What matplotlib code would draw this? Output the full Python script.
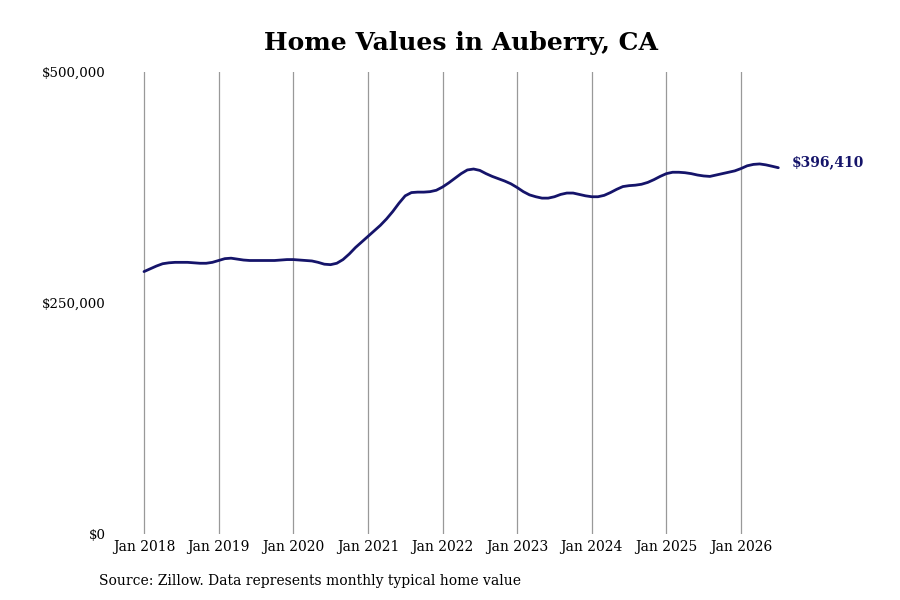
import matplotlib
matplotlib.use("Agg")
import matplotlib.pyplot as plt

# monthly typical home value, Jan 2018 .. Jul 2026 (thousands of $)
values_2018 = [284, 287, 290, 292.5, 293.5, 294, 294, 294, 293.5, 293, 293, 294]
values_2019 = [296, 298, 298.5, 297.5, 296.5, 296, 296, 296, 296, 296, 296.5, 297]
values_2020 = [297, 296.5, 296, 295.5, 294, 292, 291.5, 293, 297, 303, 310, 316]
values_2021 = [322, 328, 334, 341, 349, 358, 366, 369.5, 370, 370, 370.5, 372]
values_2022 = [375.5, 380, 385, 390, 394, 395, 393.5, 390, 387, 384.5, 382, 379]
values_2023 = [375, 370.5, 367, 365, 363.5, 363.5, 365, 367.5, 369, 369, 367.5, 366]
values_2024 = [365, 365, 366.5, 369.5, 373, 376, 377, 377.5, 378.5, 380.5, 383.5, 387]
values_2025 = [390, 391.5, 391.5, 391, 390, 388.5, 387.5, 387, 388.5, 390, 391.5, 393]
values_2026 = [395.5, 398.5, 400, 400.5, 399.5, 398, 396.41]

years = [2018, 2019, 2020, 2021, 2022, 2023, 2024, 2025, 2026]
tick_labels = ["Jan %d" % y for y in years]
y_ticks = [0, 250000, 500000]
y_labels = ["$0", "$250,000", "$500,000"]
last_label = "$396,410"

values = (values_2018 + values_2019 + values_2020 + values_2021 + values_2022
          + values_2023 + values_2024 + values_2025 + values_2026)
values = [v * 1000 for v in values]
months = list(range(len(values)))

plt.rcParams['font.family'] = 'DejaVu Serif'
navy = '#15146a'

fig = plt.figure(figsize=(9, 6), dpi=100)
ax = fig.add_axes([120 / 900, 66 / 600, 670 / 900, 462 / 600])

px_per_month = (741 - 144) / 96.0
ax.set_xlim(-(144 - 120) / px_per_month, (790 - 144) / px_per_month)
ax.set_ylim(0, 500000)

ax.plot(months, values, color=navy, linewidth=2.0, solid_capstyle='round')

ax.set_xticks([12 * i for i in range(len(years))])
ax.set_xticklabels(tick_labels, fontsize=10)
ax.set_yticks(y_ticks)
ax.set_yticklabels(y_labels, fontsize=9.6)
ax.tick_params(axis='both', length=0)
ax.tick_params(axis='x', pad=4)
ax.tick_params(axis='y', pad=10)

ax.grid(axis='x', color='#999999', linewidth=0.9)
ax.grid(axis='y', visible=False)
for s in ax.spines.values():
    s.set_visible(False)

ax.annotate(last_label, xy=(months[-1], values[-1]), xytext=(10, 4),
            textcoords='offset points', color=navy, fontsize=10,
            fontweight='bold', va='center', ha='left')

fig.text(461 / 900, 1 - 43 / 600, "Home Values in Auberry, CA", ha='center',
         va='center', fontsize=18, fontweight='bold')
fig.text(99 / 900, 1 - 581 / 600,
         "Source: Zillow. Data represents monthly typical home value",
         ha='left', va='center', fontsize=10)

fig.savefig("out.png", dpi=100)
